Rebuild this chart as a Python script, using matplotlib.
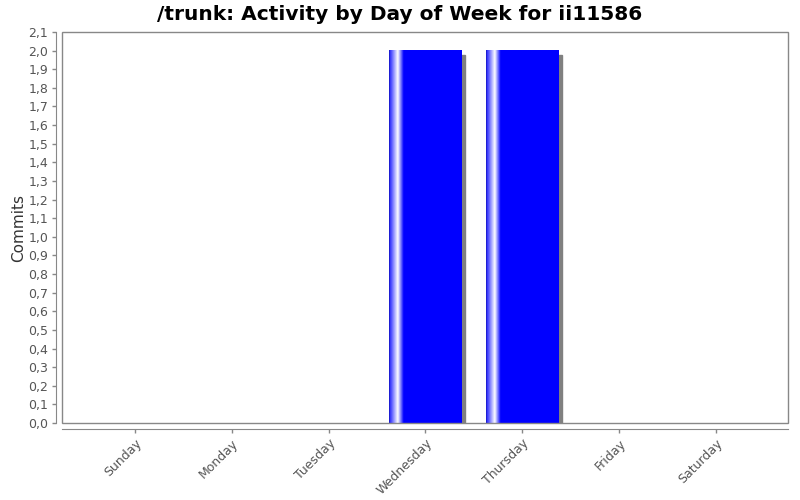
import numpy as np
import matplotlib
matplotlib.use("Agg")
import matplotlib.pyplot as plt
from matplotlib.patches import Rectangle

days = ["Sunday", "Monday", "Tuesday", "Wednesday", "Thursday", "Friday", "Saturday"]
commits = [0, 0, 0, 2, 2, 0, 0]
yticks = [i / 10 for i in range(0, 22)]
ytick_labels = [("%.1f" % v).replace(".", ",") for v in yticks]

fig = plt.figure(figsize=(8, 5), dpi=100)
ax = fig.add_axes([62 / 800, 77 / 500, 726 / 800, 391 / 500])

grey = "#888888"
width = 0.744
x = np.arange(len(days))

# spines first: set_position resets the ticks
for s in ["top", "right"]:
    ax.spines[s].set_visible(False)
ax.spines["left"].set_position(("outward", 4))
ax.spines["bottom"].set_position(("outward", 4))
ax.spines["left"].set_color(grey)
ax.spines["bottom"].set_color(grey)
ax.add_patch(Rectangle((0, 0), 1, 1, transform=ax.transAxes, fill=False,
                       edgecolor=grey, linewidth=1, zorder=5, clip_on=False))

# gradient profile of the bars: white highlight close to the left edge
t = np.linspace(0, 1, 300)
light = np.interp(t, [0, 0.03, 0.12, 0.2, 1], [0.15, 0.3, 1.0, 0.0, 0.0])
img = np.zeros((1, len(t), 3))
img[0, :, 0] = light
img[0, :, 1] = light
img[0, :, 2] = 1.0
img[0, :4, :] = [0.1, 0.1, 0.8]

dx = 4 / 96.8
dy = 4 * 2.1 / 391
for xi, v in zip(x, commits):
    if v <= 0:
        continue
    x0 = xi - width / 2
    ax.add_patch(Rectangle((x0 + dx, -dy), width, v, color="#808080", zorder=1))
    ax.imshow(img, extent=[x0, x0 + width, 0, v], aspect="auto", zorder=2, interpolation="bilinear")

ax.set_xlim(-0.754, 6.746)
ax.set_ylim(0, 2.1)
ax.tick_params(axis="both", length=3, color=grey, width=1, pad=3)
ax.set_xticks(x)
ax.set_xticklabels(days, fontsize=9, color="#555555", rotation=45, ha="right",
                   rotation_mode="anchor")
ax.set_yticks(yticks)
ax.set_yticklabels(ytick_labels, fontsize=9, color="#555555")

ax.set_ylabel("Commits", fontsize=11, color="#333333")
ax.yaxis.set_label_coords(-0.05, 0.5)
fig.text(0.5, 0.972, "/trunk: Activity by Day of Week for ii11586", ha="center", va="center",
         fontsize=14.5, fontweight="bold")

fig.savefig("out.png", dpi=100)
